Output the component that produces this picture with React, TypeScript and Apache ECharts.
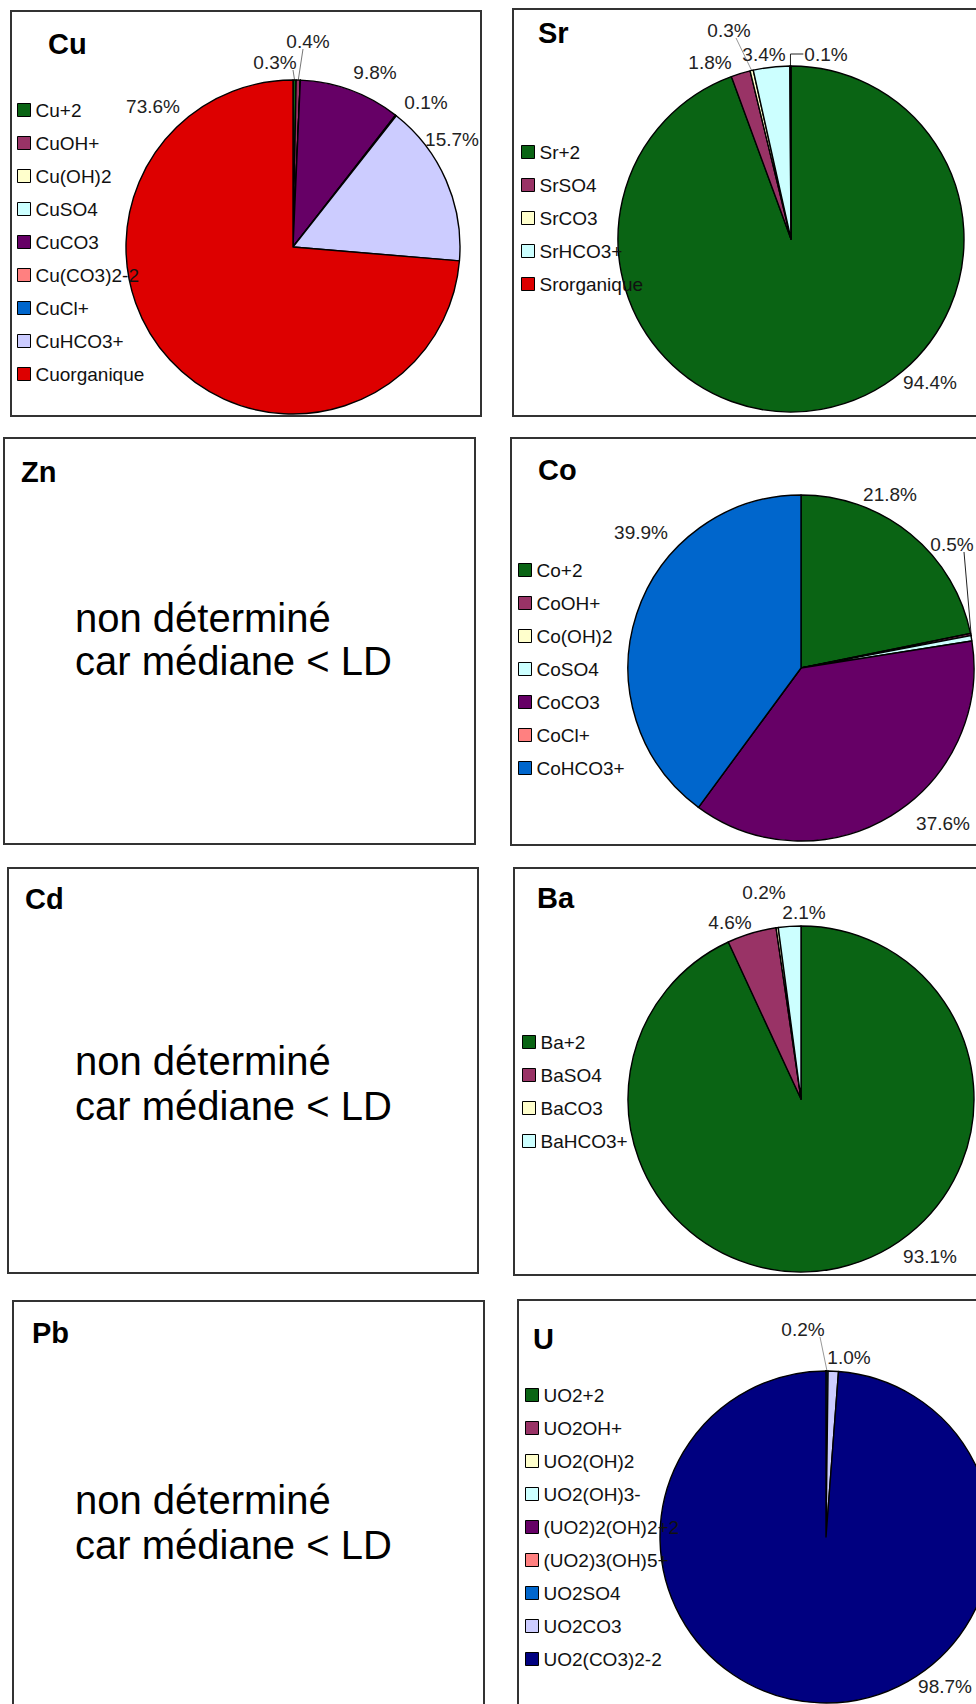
import React, { useEffect, useRef } from "react";
import * as echarts from "echarts";

const FONT = "'Liberation Sans', Arial, Helvetica, sans-serif";

// ---- colours (Excel classic palette) ----
const GREEN = "#0a6414";
const MAROON = "#993366";
const IVORY = "#FFFFCC";
const CYAN = "#CCFFFF";
const PURPLE = "#660066";
const SALMON = "#FF8080";
const BLUE = "#0066CC";
const LAVENDER = "#CCCCFF";
const NAVY = "#000080";
const RED = "#DD0000";

// ---- data ----
const cuSpecies = ["Cu+2", "CuOH+", "Cu(OH)2", "CuSO4", "CuCO3", "Cu(CO3)2-2", "CuCl+", "CuHCO3+", "Cuorganique"];
const cuValues = [0.3, 0.4, 0, 0, 9.8, 0.1, 0, 15.7, 73.6];
const cuColors = [GREEN, MAROON, IVORY, CYAN, PURPLE, SALMON, BLUE, LAVENDER, RED];

const srSpecies = ["Sr+2", "SrSO4", "SrCO3", "SrHCO3+", "Srorganique"];
const srValues = [94.4, 1.8, 0.3, 3.4, 0.1];
const srColors = [GREEN, MAROON, IVORY, CYAN, RED];

const coSpecies = ["Co+2", "CoOH+", "Co(OH)2", "CoSO4", "CoCO3", "CoCl+", "CoHCO3+"];
const coValues = [21.8, 0.2, 0, 0.5, 37.6, 0, 39.9];
const coColors = [GREEN, MAROON, IVORY, CYAN, PURPLE, SALMON, BLUE];

const baSpecies = ["Ba+2", "BaSO4", "BaCO3", "BaHCO3+"];
const baValues = [93.1, 4.6, 0.2, 2.1];
const baColors = [GREEN, MAROON, IVORY, CYAN];

const uSpecies = ["UO2+2", "UO2OH+", "UO2(OH)2", "UO2(OH)3-", "(UO2)2(OH)2+2", "(UO2)3(OH)5+", "UO2SO4", "UO2CO3", "UO2(CO3)2-2"];
const uValues = [0, 0, 0, 0, 0, 0, 0.2, 1.0, 98.7];
const uColors = [GREEN, MAROON, IVORY, CYAN, PURPLE, SALMON, BLUE, LAVENDER, NAVY];

const ndLine1 = "non déterminé";
const ndLine2 = "car médiane < LD";

// ---- layout ----
type LabelSpec = { x: number; y: number; leader?: "line" | "bracket"; ax?: number; lineColor?: string } | null;
type Panel = {
  names: string[];
  values: number[];
  colors: string[];
  center: [number, number];
  radius: number;
  legendLeft: number;
  legendTop: number;
  labels: LabelSpec[];
};

const panels: Panel[] = [
  {
    names: cuSpecies, values: cuValues, colors: cuColors,
    center: [293, 247], radius: 167, legendLeft: 17, legendTop: 100,
    labels: [
      { x: 275, y: 62, leader: "line", ax: 18, lineColor: "#777" },
      { x: 308, y: 41, leader: "line", ax: -5, lineColor: "#777" },
      null, null,
      { x: 375, y: 72 },
      { x: 426, y: 102 },
      null,
      { x: 452, y: 139 },
      { x: 153, y: 106 },
    ],
  },
  {
    names: srSpecies, values: srValues, colors: srColors,
    center: [791, 239], radius: 173, legendLeft: 521, legendTop: 142,
    labels: [
      { x: 930, y: 382 },
      { x: 710, y: 62 },
      { x: 729, y: 30, leader: "line", ax: 7, lineColor: "#999" },
      { x: 764, y: 54 },
      { x: 826, y: 54, leader: "bracket", lineColor: "#222" },
    ],
  },
  {
    names: coSpecies, values: coValues, colors: coColors,
    center: [801, 668], radius: 173, legendLeft: 518, legendTop: 560,
    labels: [
      { x: 890, y: 494 },
      null,
      null,
      { x: 952, y: 544, leader: "line", ax: 12, lineColor: "#222" },
      { x: 943, y: 823 },
      null,
      { x: 641, y: 532 },
    ],
  },
  {
    names: baSpecies, values: baValues, colors: baColors,
    center: [801, 1099], radius: 173, legendLeft: 522, legendTop: 1032,
    labels: [
      { x: 930, y: 1256 },
      { x: 730, y: 922 },
      { x: 764, y: 892 },
      { x: 804, y: 912 },
    ],
  },
  {
    names: uSpecies, values: uValues, colors: uColors,
    center: [826, 1537], radius: 166, legendLeft: 525, legendTop: 1385,
    labels: [
      null, null, null, null, null, null,
      { x: 803, y: 1329, leader: "line", ax: 17, lineColor: "#999" },
      { x: 849, y: 1357 },
      { x: 945, y: 1686 },
    ],
  },
];

const boxes: [number, number, number, number][] = [
  [11, 11, 481, 416],
  [513, 9, 995, 416],
  [4, 438, 475, 844],
  [511, 438, 995, 845],
  [8, 868, 478, 1273],
  [514, 868, 995, 1275],
  [13, 1301, 484, 1720],
  [518, 1300, 995, 1720],
];

const titles: { text: string; x: number; base: number }[] = [
  { text: "Cu", x: 48, base: 53 },
  { text: "Sr", x: 538, base: 42 },
  { text: "Zn", x: 21, base: 481 },
  { text: "Co", x: 538, base: 479 },
  { text: "Cd", x: 25, base: 908 },
  { text: "Ba", x: 537, base: 907 },
  { text: "Pb", x: 32, base: 1342 },
  { text: "U", x: 533, base: 1348 },
];

const ndBlocks: { x: number; base1: number; base2: number }[] = [
  { x: 75, base1: 630, base2: 673 },
  { x: 75, base1: 1073, base2: 1118 },
  { x: 75, base1: 1512, base2: 1557 },
];

function edgePoint(p: Panel, i: number): [number, number] {
  const total = p.values.reduce((a, b) => a + b, 0);
  let cum = 0;
  for (let k = 0; k < i; k++) cum += p.values[k];
  const theta = ((cum + p.values[i] / 2) / total) * Math.PI * 2;
  return [p.center[0] + p.radius * Math.sin(theta), p.center[1] - p.radius * Math.cos(theta)];
}

function buildOption() {
  const TITLE_FS = 29;
  const ND_FS = 40;
  const graphic: any[] = [];
  boxes.forEach(([x1, y1, x2, y2]) => {
    graphic.push({
      type: "rect",
      shape: { x: x1, y: y1, width: x2 - x1, height: y2 - y1 },
      style: { fill: "none", stroke: "#333", lineWidth: 2 },
      z: 0,
      silent: true,
    });
  });
  titles.forEach((t) => {
    graphic.push({
      type: "text",
      x: t.x,
      y: t.base - 0.31 * TITLE_FS,
      style: {
        text: t.text,
        fill: "#000",
        font: `bold ${TITLE_FS}px ${FONT}`,
        textAlign: "left",
        textVerticalAlign: "middle",
      },
      z: 10,
    });
  });
  ndBlocks.forEach((b) => {
    [
      [ndLine1, b.base1],
      [ndLine2, b.base2],
    ].forEach(([txt, base]) => {
      graphic.push({
        type: "text",
        x: b.x,
        y: (base as number) - 0.31 * ND_FS,
        style: {
          text: txt as string,
          fill: "#000",
          font: `${ND_FS}px ${FONT}`,
          textAlign: "left",
          textVerticalAlign: "middle",
        },
        z: 10,
      });
    });
  });

  const legend = panels.map((p) => ({
    data: p.names,
    orient: "vertical",
    left: p.legendLeft,
    top: p.legendTop,
    itemWidth: 13,
    itemHeight: 13,
    itemGap: 13,
    icon: "rect",
    selectedMode: false,
    itemStyle: { borderColor: "#000", borderWidth: 1 },
    textStyle: { fontFamily: FONT, fontSize: 19, lineHeight: 20, color: "#111" },
    padding: 0,
  }));

  const series = panels.map((p) => ({
    type: "pie",
    center: p.center,
    radius: p.radius,
    startAngle: 90,
    clockwise: true,
    avoidLabelOverlap: false,
    stillShowZeroSum: false,
    emphasis: { disabled: true },
    itemStyle: { borderColor: "#000", borderWidth: 1.4 },
    label: {
      show: true,
      position: "outside",
      fontFamily: FONT,
      fontSize: 19,
      color: "#222",
      formatter: (prm: any) => `${Number(prm.value).toFixed(1)}%`,
    },
    labelLine: { show: false, lineStyle: { color: "#555", width: 1 } },
    labelLayout: (params: any) => {
      const spec = p.labels[params.dataIndex];
      if (!spec) return {};
      const out: any = { x: spec.x, y: spec.y, align: "center", verticalAlign: "middle" };
      if (spec.leader) {
        const e = edgePoint(p, params.dataIndex);
        const w = params.labelRect ? params.labelRect.width : 40;
        if (spec.leader === "line") {
          const a: [number, number] = [spec.x + (spec.ax || 0), spec.y + 8];
          out.labelLinePoints = [e, a, a];
        } else {
          out.labelLinePoints = [e, [e[0], spec.y], [spec.x - w / 2 - 1, spec.y]];
        }
      }
      return out;
    },
    data: p.names.map((n, i) => {
      const spec = p.labels[i];
      return {
        name: n,
        value: p.values[i],
        itemStyle: { color: p.colors[i] },
        label: { show: !!spec },
        labelLine: spec && spec.leader
          ? { show: true, length: 5, length2: 5, lineStyle: { color: spec.lineColor || "#555", width: 1 } }
          : { show: false },
      };
    }),
  }));

  return {
    animation: false,
    backgroundColor: "#fff",
    legend,
    series,
    graphic,
  };
}

export default function App() {
  const ref = useRef<HTMLDivElement>(null);
  useEffect(() => {
    if (!ref.current) return;
    const chart = echarts.init(ref.current, null, { renderer: "svg" });
    chart.setOption(buildOption() as any);
    return () => chart.dispose();
  }, []);
  return (
    <div
      ref={ref}
      style={{ position: "absolute", left: 0, top: 0, width: 976, height: 1704, background: "#fff" }}
    />
  );
}
